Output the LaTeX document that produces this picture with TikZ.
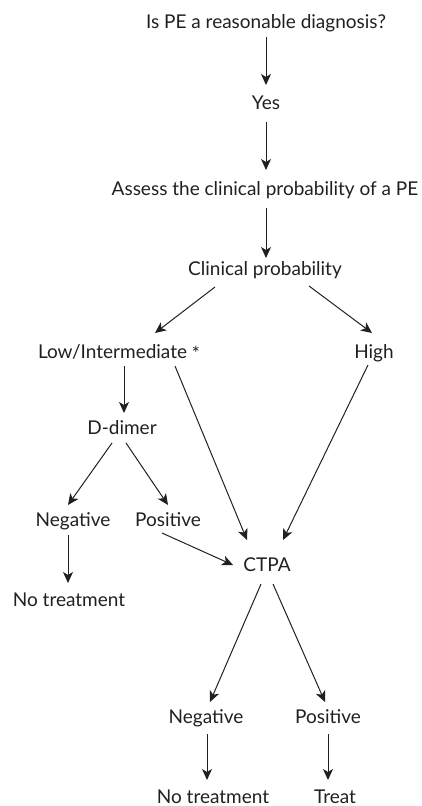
\documentclass[tikz,border=0pt]{standalone}
\usepackage{fontspec}
\setmainfont{Lato}
\usetikzlibrary{arrows.meta}
\definecolor{ink}{HTML}{231F20}
\begin{document}
\begin{tikzpicture}[x=1pt,y=-1pt,
  lbl/.style={inner sep=0pt, anchor=base, text=ink, font=\fontsize{19}{23}\selectfont},
  arr/.style={draw=ink, line width=1pt, -{Stealth[length=11pt,width=10pt,inset=3pt]}}]
\useasboundingbox (0,0) rectangle (421,806);
\node[lbl] (q) at (266,28) {Is PE a reasonable diagnosis?};
\node[lbl] (yes) at (266,109) {Yes};
\node[lbl] (assess) at (265,195) {Assess the clinical probability of a PE};
\node[lbl] (cp) at (265,275) {Clinical probability};
\node[lbl] (low) at (119,358) {Low/Intermediate \raisebox{-2pt}{*}};
\node[lbl] (high) at (374,358) {High};
\node[lbl] (dd) at (122,434) {D-dimer};
\node[lbl] (negL) at (73,526) {Negative};
\node[lbl] (posL) at (168,526) {Positive};
\node[lbl] (ntL) at (69,606) {No treatment};
\node[lbl] (ctpa) at (267,571) {CTPA};
\node[lbl] (negB) at (206,723) {Negative};
\node[lbl] (posB) at (328,723) {Positive};
\node[lbl] (ntB) at (213,803) {No treatment};
\node[lbl] (treat) at (335,803) {Treat};

\draw[arr] ([shift={(0,9)}]q.base) -- ([shift={(0,-24)}]yes.base);
\draw[arr] ([shift={(0,13)}]yes.base) -- ([shift={(1,-25)}]assess.base);
\draw[arr] ([shift={(1,13)}]assess.base) -- ([shift={(1,-17)}]cp.base);
\draw[arr] ([shift={(-50,12)}]cp.base) -- ([shift={(36,-25)}]low.base);
\draw[arr] ([shift={(44,11)}]cp.base) -- ([shift={(-2,-25)}]high.base);
\draw[arr] ([shift={(5,8)}]low.base) -- ([shift={(2,-21)}]dd.base);
\draw[arr] ([shift={(56,8)}]low.base) -- ([shift={(-20,-31)}]ctpa.base);
\draw[arr] ([shift={(-6,7)}]high.base) -- ([shift={(16,-31)}]ctpa.base);
\draw[arr] ([shift={(-10,9)}]dd.base) -- ([shift={(-5,-21)}]negL.base);
\draw[arr] ([shift={(4,9)}]dd.base) -- ([shift={(0,-21)}]posL.base);
\draw[arr] ([shift={(-6,7)}]posL.base) -- ([shift={(-34,-6)}]ctpa.base);
\draw[arr] ([shift={(-5,9)}]negL.base) -- ([shift={(-1,-23)}]ntL.base);
\draw[arr] ([shift={(-6,13)}]ctpa.base) -- ([shift={(4,-21)}]negB.base);
\draw[arr] ([shift={(6,13)}]ctpa.base) -- ([shift={(-3,-21)}]posB.base);
\draw[arr] ([shift={(1,11)}]negB.base) -- ([shift={(-6,-23)}]ntB.base);
\draw[arr] ([shift={(0,11)}]posB.base) -- ([shift={(-7,-23)}]treat.base);
\end{tikzpicture}
\end{document}
